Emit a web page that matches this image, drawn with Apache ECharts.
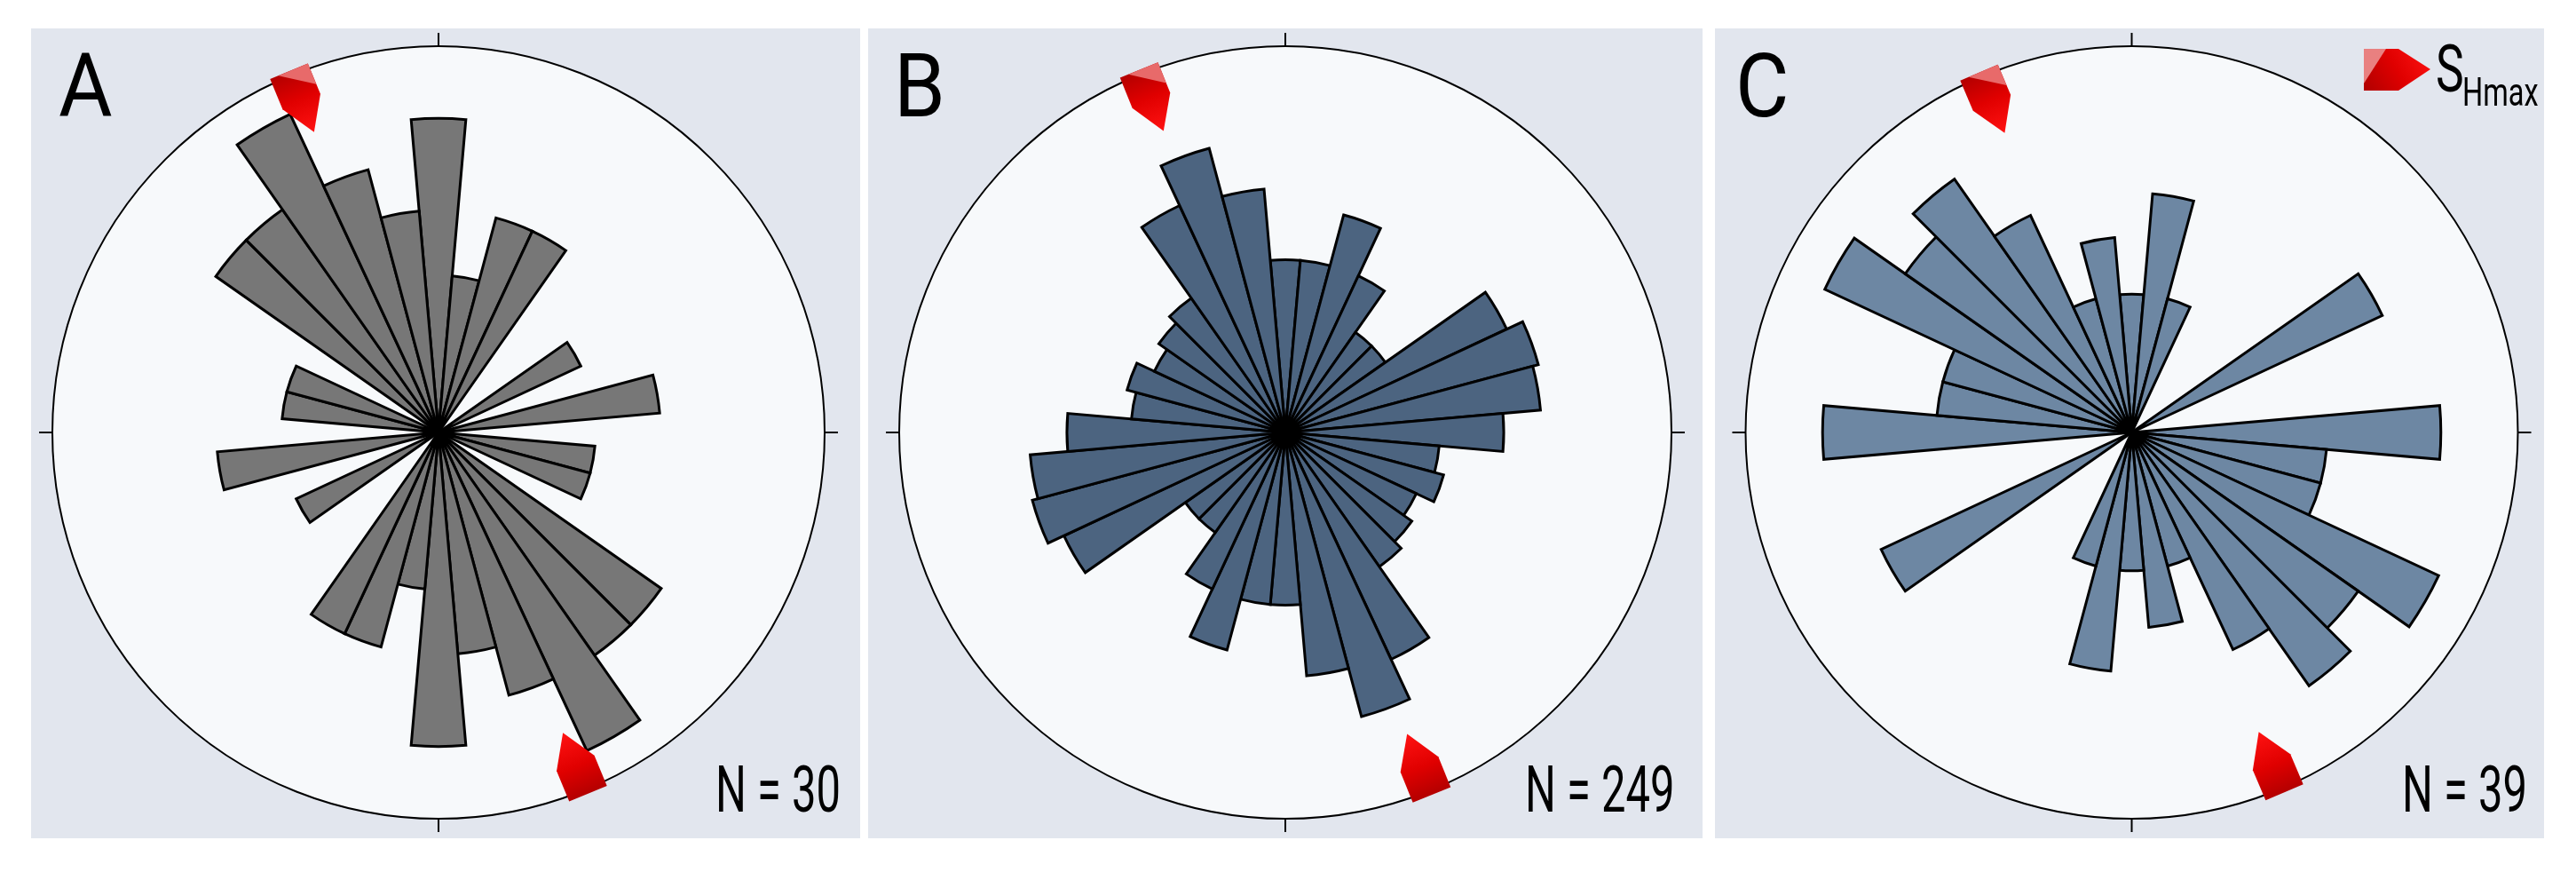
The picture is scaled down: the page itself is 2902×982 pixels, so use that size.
<!DOCTYPE html>
<html>
<head>
<meta charset="utf-8">
<style>html,body{margin:0;padding:0;background:#fff}#c{width:2902px;height:982px}</style>
<script src="https://cdn.jsdelivr.net/npm/echarts@6/dist/echarts.min.js"></script>
</head>
<body>
<div id="c"></div>
<script>
// Axial rose diagrams: counts per 10 degree bin, azimuth 0..170 (mirrored to 180..350)
const binAzimuths = [0,10,20,30,40,50,60,70,80,90,100,110,120,130,140,150,160,170];
const countsA = [4,1,2,2,0,0,1,0,2,0,1,1,0,3,3,5,3,2];
const countsB = [10,10,17,10,5,5,20,23,22,16,8,9,7,8,9,21,29,20];
const countsC = [1,3,1,0,0,0,4,0,0,5,2,2,6,4,5,3,1,2];
// Count that the outer circle stands for in each panel
const outerCounts = [6.05, 50, 7.8];
const panelLetters = ['A','B','C'];
const sampleLabels = ['N = 30','N = 249','N = 39'];
// SHmax azimuths (degrees clockwise from north)
const shmaxA = [337.5, 157.5];
const shmaxB = [338, 158];
const shmaxC = [337, 157];
const fills = ['#777777','#4c6480','#6d87a3'];

const PANEL_BG = '#e2e6ee', DISC = '#f7f9fb';
const panels = [
  {x:35,  w:934, cx:494,    letterX:66,   labelX:806},
  {x:978, w:940, cx:1448,   letterX:1007, labelX:1718},
  {x:1932,w:934, cx:2401.5, letterX:1955, labelX:2706}
];
const CY = 487, R = 435, TOP = 32, H = 912;
const MARKER_R = 0.927;
const allCounts = [countsA, countsB, countsC];
const allShmax = [shmaxA, shmaxB, shmaxC];

const MARKER = 'path://M0 0 L50 0 L100 32 L50 64 L0 64 Z';
const GLOSS  = 'path://M0 0 L34 0 L0 50 Z M100 64 L100 64';
const redGradient = () => new echarts.graphic.LinearGradient(0,0,1,0,[
  {offset:0,color:'#b40000'},{offset:.45,color:'#e00000'},{offset:1,color:'#ff1212'}]);
const rotate = v => -(90 + v[1]);

const polar=[], angleAxis=[], radiusAxis=[], series=[], graphic=[];

panels.forEach((p,i)=>{
  const center=[p.cx,CY], radius=[0,R];
  const disc = 2*i, rose = 2*i+1;
  polar[disc] = {center, radius};
  angleAxis[disc] = {polarIndex:disc,type:'value',min:0,max:360,startAngle:90,
    axisLine:{show:false},axisTick:{show:false},axisLabel:{show:false},splitLine:{show:false}};
  radiusAxis[disc] = {polarIndex:disc,type:'value',min:0,max:1,interval:1,
    axisLine:{show:false},axisTick:{show:false},axisLabel:{show:false},splitLine:{show:false},
    splitArea:{show:true,areaStyle:{color:[DISC]}}};
  const half = allCounts[i];
  const cats = binAzimuths.concat(binAzimuths.map(a=>a+180)).map(String);
  const vals = half.concat(half).map(c=>c>0?Math.sqrt(c):null);
  polar[rose] = {center, radius};
  angleAxis[rose] = {polarIndex:rose,type:'category',data:cats,startAngle:95,boundaryGap:true,
    axisLine:{show:true,lineStyle:{color:'#000',width:2}},
    axisTick:{show:true,alignWithLabel:true,length:15,interval:(idx)=>idx%9===0,lineStyle:{color:'#000',width:2}},
    axisLabel:{show:false},splitLine:{show:false}};
  radiusAxis[rose] = {polarIndex:rose,type:'value',min:0,max:Math.sqrt(outerCounts[i]),
    axisLine:{show:false},axisTick:{show:false},axisLabel:{show:false},splitLine:{show:false}};
  series.push({type:'bar',name:panelLetters[i],coordinateSystem:'polar',polarIndex:rose,
    data:vals,barWidth:'100%',barGap:'-100%',z:2,silent:true,
    itemStyle:{color:fills[i],borderColor:'#000',borderWidth:3}});
  series.push({type:'scatter',name:'SHmax '+panelLetters[i],coordinateSystem:'polar',polarIndex:disc,clip:false,
    data:allShmax[i].map(a=>[MARKER_R,a]),symbol:MARKER,symbolSize:[74,46],symbolRotate:rotate,z:6,silent:true,
    itemStyle:{color:redGradient(),opacity:1}});
  series.push({type:'scatter',name:'SHmax gloss '+panelLetters[i],coordinateSystem:'polar',polarIndex:disc,clip:false,
    data:[[MARKER_R,allShmax[i][0]]],symbol:GLOSS,symbolSize:[74,46],symbolRotate:rotate,z:7,silent:true,
    itemStyle:{color:'#e86a6a',opacity:1}});

  graphic.push({type:'rect',silent:true,z:-10,shape:{x:p.x,y:TOP,width:p.w,height:H},style:{fill:PANEL_BG}});
  graphic.push({type:'text',silent:true,z:20,x:p.letterX,y:106,scaleX:.92,
    style:{text:panelLetters[i],font:'400 101px Roboto',fill:'#000',textAlign:'left',textVerticalAlign:'middle'}});
  graphic.push({type:'text',silent:true,z:20,x:p.labelX,y:896,scaleX:.68,
    style:{text:sampleLabels[i],font:'400 72px Roboto',fill:'#000',textAlign:'left',textVerticalAlign:'middle'}});
});

// SHmax key, top right of panel C
graphic.push({type:'polygon',silent:true,z:20,
  shape:{points:[[2663,55],[2702,55],[2738,78],[2702,102],[2663,102]]},
  style:{fill:new echarts.graphic.LinearGradient(0,1,1,0,[{offset:0,color:'#b00000'},{offset:.5,color:'#e00000'},{offset:1,color:'#ff1414'}])}});
graphic.push({type:'polygon',silent:true,z:21,
  shape:{points:[[2663,55],[2688,55],[2663,94]]},style:{fill:'#e98080'}});
graphic.push({type:'text',silent:true,z:20,x:2744,y:84,scaleX:.72,
  style:{text:'S',font:'400 74px Roboto',fill:'#000',textAlign:'left',textVerticalAlign:'middle'}});
graphic.push({type:'text',silent:true,z:20,x:2774,y:108,scaleX:.74,
  style:{text:'Hmax',font:'400 44px Roboto',fill:'#000',textAlign:'left',textVerticalAlign:'middle'}});

const chart = echarts.init(document.getElementById('c'),null,{renderer:'canvas'});
chart.setOption({animation:false,backgroundColor:'#fff',polar,angleAxis,radiusAxis,series,graphic});
</script>
</body>
</html>
